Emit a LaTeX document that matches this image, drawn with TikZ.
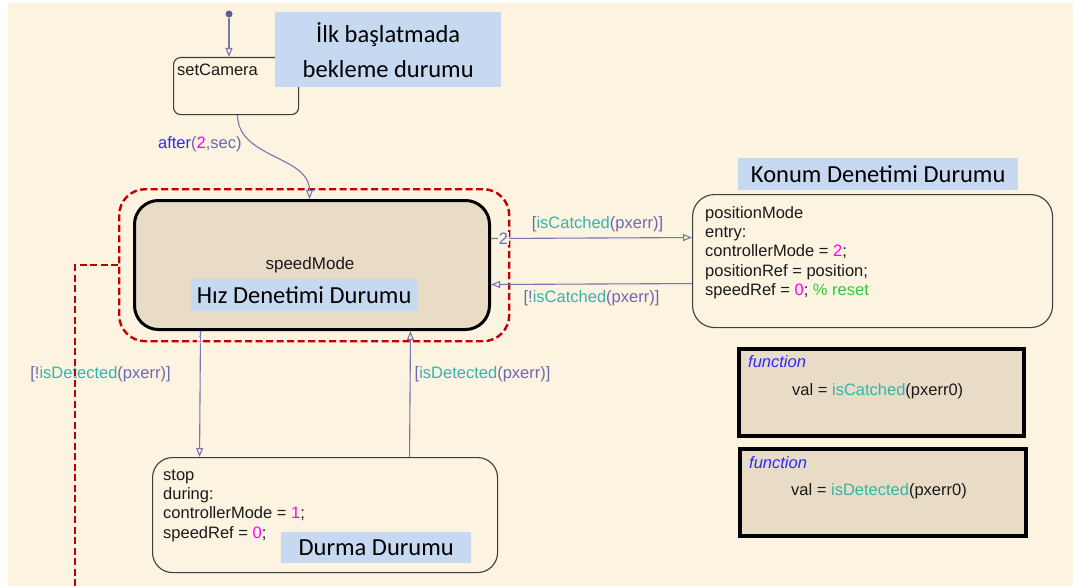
\documentclass[tikz,border=0pt]{standalone}
\usepackage{fontspec}
\setmainfont{Liberation Sans}
\newfontfamily\notefont{Carlito}
\usetikzlibrary{positioning,arrows.meta}

\definecolor{chartbg}{HTML}{FDF3E1}
\definecolor{statefill}{HTML}{E8DCC6}
\definecolor{notefill}{HTML}{C6D9F1}
\definecolor{trline}{HTML}{7478AC}
\definecolor{slate}{HTML}{6A6AAE}
\definecolor{fcall}{HTML}{36B4AA}
\definecolor{num}{HTML}{FF00FF}
\definecolor{cmt}{HTML}{33CC33}
\definecolor{kw}{HTML}{2B2BFF}
\definecolor{grpred}{HTML}{C00000}
\definecolor{ink}{HTML}{1A1A1A}

\begin{document}
\begin{tikzpicture}[x=1pt, y=-1pt,
  stbox/.style={draw=ink!85, line width=1.1pt, anchor=north west, inner sep=0pt},
  fbox/.style={draw=black, line width=3.5pt, fill=statefill, anchor=north west, inner sep=0pt},
  code/.style={font=\fontsize{16.5}{19.4}\selectfont, text=ink, inner sep=0pt, anchor=base west},
  note/.style={fill=notefill, anchor=north west, inner sep=0pt, align=center,
               font=\notefont\fontsize{24.5}{35}\selectfont, text=black},
  lbl/.style={font=\fontsize{16.5}{19.4}\selectfont, text=slate, inner sep=0pt},
  tr/.style={draw=trline, line width=1.1pt, -{Triangle[open, length=9pt, width=7pt]}},
  grp/.style={draw=grpred, line width=2.4pt, dash pattern=on 7pt off 3.5pt}]

% chart canvas
\useasboundingbox (0,0) rectangle (1073,586);
\fill[white] (0,0) rectangle (1073,586);
\fill[chartbg] (8,3) rectangle (1073,586);

% states
\node[stbox, rounded corners=7pt, minimum width=125, minimum height=57] (cam) at (173,57) {};
\node[code] (camname) at ([shift={(4,18)}]cam.north west) {setCamera};

\node[grp, rounded corners=26pt, anchor=north west, minimum width=390, minimum height=152] (speedgrp) at (118,188) {};
\node[stbox, draw=black, line width=3pt, fill=statefill, rounded corners=24pt,
      minimum width=355, minimum height=129] (speed) at (133,199) {};
\node[code, anchor=base, font=\fontsize{17}{20}\selectfont] (speedname) at (310,269) {speedMode};

\node[stbox, rounded corners=22pt, minimum width=360, minimum height=133] (posi) at (692,194) {};
\node[code] (posiname) at ([shift={(13,24)}]posi.north west)
  {\begin{tabular}[t]{@{}l@{}}
   positionMode\\
   entry:\\
   controllerMode = \textcolor{num}{2};\\
   positionRef = position;\\
   speedRef = \textcolor{num}{0}; \textcolor{cmt}{\% reset}
   \end{tabular}};

\node[stbox, rounded corners=20pt, minimum width=345, minimum height=115] (stop) at (152,457) {};
\node[code] (stopname) at ([shift={(11,23)}]stop.north west)
  {\begin{tabular}[t]{@{}l@{}}
   stop\\
   during:\\
   controllerMode = \textcolor{num}{1};\\
   speedRef = \textcolor{num}{0};
   \end{tabular}};

% graphical functions
\node[fbox, minimum width=285, minimum height=87] (fcatch) at (737,347) {};
\node[code, text=kw, font=\fontsize{16.5}{19.4}\selectfont\itshape] (fcatchkw) at ([shift={(11,20)}]fcatch.north west) {function};
\node[code] (fcatchval) at ([shift={(55,48)}]fcatch.north west) {val = \textcolor{fcall}{isCatched}(pxerr0)};

\node[fbox, minimum width=286, minimum height=87] (fdetect) at (738,447) {};
\node[code, text=kw, font=\fontsize{16.5}{19.4}\selectfont\itshape] (fdetectkw) at ([shift={(11,21)}]fdetect.north west) {function};
\node[code] (fdetectval) at ([shift={(53,48)}]fdetect.north west) {val = \textcolor{fcall}{isDetected}(pxerr0)};

% notes
\node[note, minimum width=226, minimum height=75] (notecam) at (275,12) {İlk başlatmada\\bekleme durumu};
\node[note, minimum width=226, minimum height=32] (notespeed) at (191,279) {Hız Denetimi Durumu};
\node[note, minimum width=280, minimum height=32] (noteposi) at (738,158) {Konum Denetimi Durumu};
\node[note, minimum width=190, minimum height=31] (notestop) at (281,532) {Durma Durumu};

% transitions
\node[circle, fill=trline!80!black, minimum size=7pt, inner sep=0pt] (init) at (229,14) {};
\draw[tr] (init) -- (init |- cam.north);

\draw[tr] ([xshift=1.5pt]cam.south) to[out=-90, in=90]
  node[lbl, pos=0.3, left=11pt] (lblafter) {\textcolor{kw}{after}(\textcolor{num}{2},sec)}
  ([xshift=-2.5pt]speed.north);

\draw[tr] ([yshift=26.5pt]speed.east) --
  node[lbl, pos=0.062, fill=chartbg, inner sep=1pt] (ord2) {2}
  node[lbl, pos=0.53, above=6pt] (lblcatch) {[\textcolor{fcall}{isCatched}(pxerr)]}
  ([yshift=23.5pt]posi.west);
\draw[tr] ([yshift=-22.5pt]posi.west) --
  node[lbl, pos=0.5, below=6pt] (lblnocatch) {[!\textcolor{fcall}{isCatched}(pxerr)]}
  ([yshift=-19.5pt]speed.east);

\draw[tr] ([xshift=-111.5pt]speed.south) --
  node[lbl, pos=0.07, fill=chartbg, inner sep=0.5pt, font=\fontsize{9}{10}\selectfont] (ord1) {1}
  node[lbl, pos=0.34, left=29pt] (lblnodetect) {[!\textcolor{fcall}{isDetected}(pxerr)]}
  ([xshift=-125.5pt]stop.north);
\draw[tr] ([xshift=84.5pt]stop.north) --
  node[lbl, pos=0.66, right=4pt] (lbldetect) {[\textcolor{fcall}{isDetected}(pxerr)]}
  ([xshift=98.5pt]speed.south);

% group outline leaving to the left
\coordinate (grpout) at (75,586);
\draw[grp] (speedgrp.west) -| (grpout);
\end{tikzpicture}
\end{document}
